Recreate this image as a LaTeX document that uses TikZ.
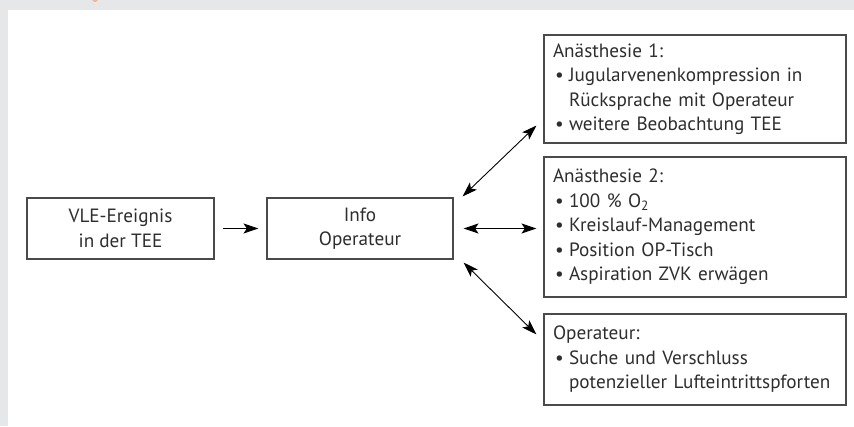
\documentclass[tikz,border=0pt]{standalone}
\usepackage{fontspec}
\setmainfont{PT Sans}
\usetikzlibrary{arrows.meta,calc}
\definecolor{pagec}{HTML}{E6E7E8}
\definecolor{boxc}{HTML}{4A4A4A}
\definecolor{txtc}{HTML}{2E2E2E}
\definecolor{tagc}{HTML}{F2B48C}
\newcommand{\boxfont}{\fontsize{19.2}{24.5}\selectfont}
\newcommand{\itm}[1]{\mbox{\makebox[16pt][l]{\hspace{2pt}\textbullet}#1}}
\newcommand{\cnt}[1]{\mbox{\hspace*{16pt}#1}}
\tikzset{
  >={Stealth[length=15pt,width=10pt,inset=3.5pt]},
  box/.style={draw=boxc,line width=1.1pt,fill=white,text=txtc,font=\boxfont},
  cbox/.style={box,align=center,inner sep=0pt,minimum width=187pt,minimum height=61pt},
  lbox/.style={box,align=left,inner xsep=9pt,inner ysep=0pt,text width=284pt},
  link/.style={line width=0.9pt,draw=black},
}

\begin{document}
\begin{tikzpicture}[x=1pt,y=1pt]
  \useasboundingbox (0,0) rectangle (854,426);
  \fill[pagec] (0,0) rectangle (854,426);
  \fill[white] (8,0) rectangle (854,416);
  \fill[tagc] (95,427) circle (3);
  % left part
  \node[cbox] (vle) at (120.5,197.5) {VLE-Ereignis\\in der TEE};
  \node[cbox,minimum width=186pt] (info) at (360,197.5) {Info\\Operateur};
  % right column
  \node[lbox,minimum height=108pt] (an1) at (695,337) {Anästhesie 1:\\
    \itm{Jugularvenenkompression in}\\
    \cnt{Rücksprache mit Operateur}\\
    \itm{weitere Beobachtung TEE}};
  \node[lbox,minimum height=140pt] (an2) at (695,199) {Anästhesie 2:\\
    \itm{100 \% O\textsubscript{2}}\\
    \itm{Kreislauf-Management}\\
    \itm{Position OP-Tisch}\\
    \itm{Aspiration ZVK erwägen}};
  \node[lbox,minimum height=91pt] (op) at (695,66.5) {Operateur:\\
    \itm{Suche und Verschluss}\\
    \cnt{potenzieller Lufteintrittspforten}};
  % arrows
  \draw[link,->,shorten <=8pt,shorten >=8pt] (vle.east) -- (info.west);
  \draw[link,<->] ([shift={(9,1)}]info.north east) -- ([shift={(-7,18)}]an1.south west);
  \draw[link,<->,shorten <=10pt,shorten >=7pt] (info.east) -- (info.east -| an2.west);
  \draw[link,<->] ([shift={(10,-3)}]info.south east) -- ([shift={(-7,-21)}]op.north west);
\end{tikzpicture}
\end{document}
